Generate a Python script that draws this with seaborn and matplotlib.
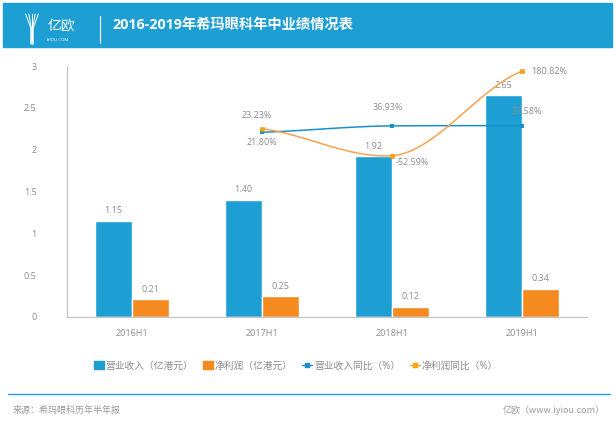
import numpy as np
import pandas as pd
import seaborn as sns
import matplotlib
matplotlib.use("Agg")
import matplotlib.pyplot as plt
from matplotlib.patches import Rectangle, Patch
from matplotlib.lines import Line2D

# data
periods = ["2016H1", "2017H1", "2018H1", "2019H1"]
revenue = [1.15, 1.40, 1.92, 2.65]          # 营业收入（亿港元）
profit = [0.21, 0.25, 0.12, 0.34]           # 净利润（亿港元）
rev_yoy_periods = ["2017H1", "2018H1", "2019H1"]
rev_yoy = [23.23, 36.93, 37.58]             # 营业收入同比（%）
profit_yoy = [21.80, -52.59, 180.82]        # 净利润同比（%）
series_names = ["营业收入（亿港元）", "净利润（亿港元）", "营业收入同比（%）", "净利润同比（%）"]

BLUE = "#1e9fd4"
ORANGE = "#f58a21"
LINE_BLUE = "#1b8fca"
LINE_ORANGE = "#f8a24e"
GRAY = "#8c8c8c"

sns.set_style("white")
plt.rcParams["font.family"] = ["Open Sans", "Noto Sans CJK SC", "DejaVu Sans"]

fig = plt.figure(figsize=(6.16, 4.23), dpi=100)
W, H = 616, 423


def fx(px):
    return px / W


def fy(py):
    return 1 - py / H


# header band
fig.patches.append(Rectangle((fx(3), fy(47)), fx(609), 44 / H, transform=fig.transFigure,
                             color=BLUE, zorder=0))
fig.text(fx(112), fy(25), "2016-2019年希玛眼科年中业绩情况表", color="white", fontsize=10.3,
         fontweight="bold", va="center", family=["Open Sans", "Noto Sans CJK SC"])
fig.add_artist(Line2D([fx(100), fx(100)], [fy(16), fy(43)], color="white", lw=0.8,
                      transform=fig.transFigure))
# logo
for dx in (-4, -2, 0, 2, 4):
    fig.add_artist(Line2D([fx(32 + dx * 1.6), fx(32 + dx * 0.3), fx(32 + dx * 0.3)],
                          [fy(14), fy(28), fy(44)], color="white", lw=0.7,
                          transform=fig.transFigure))
fig.text(fx(48), fy(26), "亿欧", color="white", fontsize=10, va="center",
         family=["Noto Sans CJK SC"])
fig.text(fx(47), fy(40), "IYIOU.COM", color="white", fontsize=3.2, va="center")

# main axes
ax = fig.add_axes([fx(67), fy(317), fx(520), 251 / H])
df = pd.DataFrame({
    "period": periods * 2,
    "value": revenue + profit,
    "series": [series_names[0]] * 4 + [series_names[1]] * 4,
})
sns.barplot(data=df, x="period", y="value", hue="series", order=periods,
            hue_order=series_names[:2], palette=[BLUE, ORANGE], width=0.57,
            gap=0, saturation=1, errorbar=None, ax=ax, legend=False, zorder=2)
for cont in ax.containers:
    ax.bar_label(cont, fmt="%.2f", padding=4, fontsize=6.5, color=GRAY)

ax.set_ylim(0, 3)
ax.set_xlim(-0.5, 3.5)
ax.set_yticks([0, 0.5, 1, 1.5, 2, 2.5, 3])
ax.set_yticklabels(["0", "0.5", "1", "1.5", "2", "2.5", "3"])
ax.tick_params(axis="both", length=0, labelsize=6.5, labelcolor=GRAY)
ax.tick_params(axis="y", pad=22)
ax.tick_params(axis="x", pad=9)
ax.set_xlabel("")
ax.set_ylabel("")
for s in ("top", "right"):
    ax.spines[s].set_visible(False)
for s in ("left", "bottom"):
    ax.spines[s].set_color("#c8c8c8")
    ax.spines[s].set_linewidth(1)


def smooth(xs, ys, k=0.15, n=40):
    xs = np.asarray(xs, float)
    ys = np.asarray(ys, float)
    m = np.zeros_like(ys)
    for i in range(len(ys)):
        if i == 0:
            m[i] = (ys[1] - ys[0]) * 0.6
        elif i == len(ys) - 1:
            m[i] = (ys[-1] - ys[-2]) * 0.6
        else:
            m[i] = (ys[i + 1] - ys[i - 1]) * k
    ox, oy = [], []
    for i in range(len(ys) - 1):
        t = np.linspace(0, 1, n)
        h00 = 2 * t**3 - 3 * t**2 + 1
        h10 = t**3 - 2 * t**2 + t
        h01 = -2 * t**3 + 3 * t**2
        h11 = t**3 - t**2
        ox.extend(xs[i] + t * (xs[i + 1] - xs[i]))
        oy.extend(h00 * ys[i] + h10 * m[i] + h01 * ys[i + 1] + h11 * m[i + 1])
    return ox, oy


xpos = [periods.index(p) for p in rev_yoy_periods]

# hidden axes for the two growth lines
ax_r = ax.twinx()
ax_r.set_ylim(-378, 167)
ax_r.axis("off")
ax_p = ax.twinx()
ax_p.set_ylim(-498, 195)
ax_p.axis("off")

sx, sy = smooth(xpos, rev_yoy)
ax_r.plot(sx, sy, color=LINE_BLUE, lw=1.1, zorder=3)
sns.scatterplot(x=xpos, y=rev_yoy, marker="s", s=8, color=LINE_BLUE, edgecolor="none",
                ax=ax_r, zorder=4, legend=False)
sx, sy = smooth(xpos, profit_yoy)
ax_p.plot(sx, sy, color=LINE_ORANGE, lw=1.1, zorder=3)
sns.scatterplot(x=xpos, y=profit_yoy, marker="s", s=8, color="#f5a800", edgecolor=ORANGE,
                linewidth=0.4, ax=ax_p, zorder=4, legend=False)

rev_offsets = [(-5, 17), (-4, 18), (5, 14)]
for x, v, off in zip(xpos, rev_yoy, rev_offsets):
    ax_r.annotate(f"{v:.2f}%", (x, v), xytext=off, textcoords="offset pixels",
                  ha="center", va="center", fontsize=6.5, color=GRAY)
profit_offsets = [(0, -14), (20, -7), (27, 0)]
for x, v, off in zip(xpos, profit_yoy, profit_offsets):
    ax_p.annotate(f"{v:.2f}%", (x, v), xytext=off, textcoords="offset pixels",
                  ha="center", va="center", fontsize=6.5, color=GRAY)

# legend
handles = [
    Patch(color=BLUE),
    Patch(color=ORANGE),
    Line2D([0], [0], color=LINE_BLUE, lw=1, marker="s", markersize=2.5),
    Line2D([0], [0], color=LINE_ORANGE, lw=1, marker="s", markersize=2.5,
           markerfacecolor="#f5a800", markeredgecolor="#f5a800"),
]
fig.legend(handles, series_names, loc="center", bbox_to_anchor=(fx(296), fy(366)), ncol=4,
           frameon=False, fontsize=7, labelcolor=GRAY, handlelength=1.0, handleheight=0.8,
           handletextpad=0.2, columnspacing=1.0)

# footer
fig.add_artist(Line2D([fx(8), fx(610)], [fy(394), fy(394)], color=BLUE, lw=1,
                      transform=fig.transFigure))
fig.text(fx(13), fy(410), "来源：希玛眼科历年半年报", color="#9a9a9a", fontsize=6.5, va="center",
         family=["Noto Sans CJK SC"])
fig.text(fx(605), fy(410), "亿欧（www.iyiou.com）", color="#9a9a9a", fontsize=6.5, va="center",
         ha="right", family=["Noto Sans CJK SC", "DejaVu Sans"])

fig.savefig("out.png", dpi=100)
